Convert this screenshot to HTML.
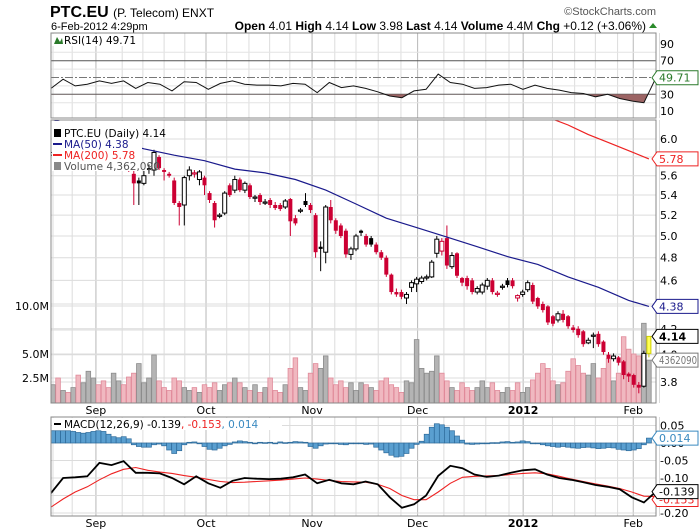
<!DOCTYPE html>
<html><head><meta charset="utf-8"><style>
html,body{margin:0;padding:0;background:#fff;}
svg{display:block;font-family:"DejaVu Sans","Liberation Sans",sans-serif;}
</style></head><body>
<svg id="chart" width="700" height="530" viewBox="0 0 700 530">
<defs>
<clipPath id="mainClip"><rect x="51" y="120" width="605" height="283"/></clipPath>
<clipPath id="rsiClip"><rect x="51" y="33" width="605" height="85"/></clipPath>
<clipPath id="rsiLow"><rect x="51" y="94.3" width="605" height="24"/></clipPath>
<clipPath id="macdClip"><rect x="51" y="417" width="605" height="99"/></clipPath>
</defs>
<g>
<text x="50" y="17" font-family="Liberation Sans, sans-serif" font-size="16" font-weight="bold">PTC.EU <tspan font-weight="normal" font-size="12">(P. Telecom) ENXT</tspan></text>
<text x="656" y="15" text-anchor="end" font-family="Liberation Sans, sans-serif" font-size="11" fill="#555">©StockCharts.com</text>
<text x="51" y="30" font-family="Liberation Sans, sans-serif" font-size="11">6-Feb-2012 4:29pm</text>
<text x="646" y="30" text-anchor="end" font-family="Liberation Sans, sans-serif" font-size="12"><tspan font-weight="bold">Open</tspan> 4.01 <tspan font-weight="bold">High</tspan> 4.14 <tspan font-weight="bold">Low</tspan> 3.98 <tspan font-weight="bold">Last</tspan> 4.14 <tspan font-weight="bold">Volume</tspan> 4.4M <tspan font-weight="bold">Chg</tspan> +0.12 (+3.06%)</text>
<polygon points="649,28 657,28 653,23" fill="#2a8a2a"/>
</g>
<g id="grid"></g>
<g id="rsi"></g>
<g id="main" clip-path="url(#mainClip)"></g>
<g id="macd"></g>
<g id="frames"></g>
<g id="axes"></g>
<g id="legend"></g>
</svg>
<script>
// ---------- DATA ----------
const opens=[5.82,5.85,5.80,5.88,5.76,5.78,5.70,5.76,5.84,5.88,5.80,5.74,5.70,5.80,5.82,5.74,5.62,5.55,5.52,5.68,5.66,5.80,5.66,5.62,5.55,5.32,5.30,5.60,5.62,5.56,5.58,5.42,5.32,5.19,5.22,5.50,5.45,5.56,5.45,5.50,5.37,5.40,5.33,5.35,5.30,5.30,5.28,5.36,5.17,5.24,5.34,5.30,5.20,4.90,4.85,5.28,5.15,5.10,5.05,4.83,4.88,5.05,5.00,4.98,4.92,4.85,4.80,4.65,4.50,4.50,4.45,4.54,4.57,4.59,4.62,4.63,4.84,4.86,4.98,4.72,4.84,4.62,4.62,4.60,4.50,4.50,4.55,4.60,4.48,4.55,4.60,4.60,4.45,4.48,4.52,4.56,4.45,4.40,4.38,4.30,4.27,4.32,4.30,4.21,4.20,4.18,4.09,4.15,4.16,4.10,4.00,3.97,3.98,3.95,3.86,3.85,3.78,3.77,4.01];
const closes=[5.85,5.80,5.90,5.75,5.80,5.70,5.75,5.85,5.90,5.80,5.75,5.68,5.80,5.85,5.75,5.70,5.52,5.52,5.60,5.66,5.85,5.68,5.64,5.60,5.32,5.28,5.58,5.66,5.63,5.64,5.50,5.35,5.15,5.20,5.42,5.40,5.56,5.45,5.52,5.38,5.38,5.33,5.33,5.30,5.27,5.26,5.34,5.14,5.12,5.25,5.30,5.25,4.85,4.88,5.28,5.15,5.05,5.00,4.83,4.88,5.00,5.03,4.92,4.92,4.85,4.80,4.65,4.50,4.48,4.46,4.48,4.58,4.61,4.62,4.63,4.76,4.97,4.95,4.73,4.82,4.64,4.58,4.55,4.50,4.53,4.56,4.60,4.50,4.49,4.55,4.56,4.55,4.47,4.50,4.58,4.42,4.38,4.35,4.25,4.24,4.32,4.27,4.22,4.19,4.15,4.08,4.11,4.15,4.08,4.02,3.97,3.99,3.94,3.85,3.84,3.78,3.76,4.01,4.14];
const highs=[5.88,5.88,5.92,5.9,5.83,5.8,5.78,5.87,5.93,5.9,5.82,5.76,5.82,5.88,5.84,5.76,5.66,5.58,5.65,5.72,5.88,5.82,5.68,5.64,5.58,5.34,5.6,5.7,5.66,5.66,5.6,5.44,5.34,5.22,5.44,5.52,5.6,5.58,5.54,5.52,5.4,5.42,5.36,5.37,5.33,5.32,5.36,5.37,5.2,5.27,5.42,5.32,5.22,4.95,5.3,5.35,5.17,5.12,5.07,4.9,5.02,5.06,5.02,5.0,4.94,4.87,4.82,4.66,4.53,4.52,4.5,4.6,4.63,4.64,4.65,4.78,5.0,4.98,5.1,4.85,4.85,4.63,4.64,4.62,4.55,4.58,4.62,4.62,4.51,4.57,4.62,4.62,4.48,4.52,4.6,4.58,4.46,4.42,4.39,4.31,4.34,4.35,4.31,4.23,4.22,4.19,4.13,4.17,4.18,4.11,4.02,4.01,3.99,3.96,3.87,3.86,3.8,4.03,4.14];
const lows=[5.78,5.77,5.78,5.72,5.74,5.66,5.68,5.74,5.82,5.78,5.72,5.66,5.68,5.78,5.72,5.64,5.3,5.3,5.5,5.62,5.6,5.66,5.55,5.58,5.3,5.1,5.1,5.55,5.58,5.5,5.4,5.32,5.08,5.17,5.2,5.38,5.42,5.43,5.42,5.36,5.33,5.3,5.3,5.27,5.25,5.24,5.26,5.0,5.1,5.22,5.28,5.22,4.8,4.68,4.75,5.12,5.02,4.98,4.8,4.78,4.86,5.0,4.9,4.9,4.83,4.78,4.63,4.48,4.46,4.44,4.4,4.5,4.5,4.57,4.6,4.62,4.8,4.82,4.7,4.7,4.62,4.55,4.52,4.48,4.48,4.48,4.52,4.48,4.46,4.52,4.54,4.53,4.42,4.46,4.5,4.4,4.36,4.33,4.23,4.22,4.25,4.25,4.2,4.17,4.13,4.06,4.08,4.05,4.06,4.0,3.94,3.95,3.92,3.82,3.8,3.76,3.72,3.76,3.98];
const volumes=[1.8,2.5,1.2,1.0,1.5,2.8,2.0,3.2,2.5,1.8,2.2,1.5,3.0,2.2,1.8,2.6,3.0,4.0,2.0,2.5,4.9,2.2,1.5,1.2,2.5,2.2,1.5,1.2,1.5,1.0,1.8,1.5,2.0,1.2,1.8,2.0,2.5,2.0,1.5,1.2,1.8,1.0,1.5,2.5,1.2,1.0,1.8,3.5,4.6,1.5,1.2,3.0,4.0,3.5,4.8,2.5,1.8,2.2,1.5,2.0,1.2,2.0,1.8,1.5,1.2,2.2,2.5,1.8,1.5,1.0,2.2,2.0,6.5,3.5,3.0,3.2,4.8,3.0,2.2,1.5,1.2,2.0,1.5,1.2,1.5,2.2,1.5,2.0,1.2,1.0,1.5,1.2,2.0,1.0,1.5,2.3,3.0,4.0,3.5,2.2,1.8,2.0,3.2,4.5,3.8,3.0,2.8,4.0,2.5,3.5,4.5,2.2,3.0,6.8,5.5,5.0,4.8,8.2,4.36];
const ma50Days=[0,6,12,18,24,30,36,42,48,54,60,66,72,78,84,90,96,102,108,114,118];
const ma50=[6.22,6.13,5.98,5.89,5.82,5.76,5.67,5.63,5.56,5.45,5.31,5.17,5.08,4.99,4.90,4.81,4.74,4.63,4.54,4.43,4.38];
const ma200Days=[98,102,106,110,114,118];
const ma200=[6.25,6.16,6.05,5.96,5.87,5.78];
const rsi=[37,48,40,42,46,43,46,37,44,42,34,45,44,36,43,46,42,41,41,40,43,42,32,44,38,40,37,33,28,26,34,36,54,44,42,37,38,41,42,36,41,37,35,32,31,27,30,25,22,20,49.71];
const macdLine=[-0.143,-0.10,-0.098,-0.095,-0.057,-0.063,-0.052,-0.085,-0.085,-0.087,-0.10,-0.118,-0.095,-0.115,-0.128,-0.108,-0.10,-0.102,-0.103,-0.102,-0.098,-0.09,-0.115,-0.105,-0.115,-0.118,-0.11,-0.118,-0.155,-0.185,-0.175,-0.15,-0.094,-0.065,-0.072,-0.09,-0.097,-0.093,-0.085,-0.078,-0.075,-0.09,-0.10,-0.105,-0.112,-0.12,-0.125,-0.132,-0.155,-0.17,-0.139];
const signalLine=[-0.183,-0.16,-0.14,-0.125,-0.105,-0.088,-0.075,-0.07,-0.078,-0.083,-0.087,-0.093,-0.098,-0.104,-0.11,-0.113,-0.112,-0.11,-0.108,-0.106,-0.103,-0.1,-0.103,-0.107,-0.11,-0.111,-0.112,-0.118,-0.13,-0.15,-0.162,-0.162,-0.14,-0.115,-0.098,-0.095,-0.094,-0.093,-0.09,-0.087,-0.085,-0.088,-0.095,-0.103,-0.11,-0.117,-0.123,-0.13,-0.14,-0.152,-0.153];
const histogram=[0.035,0.035,0.035,0.035,0.033,0.03,0.028,0.03,0.033,0.035,0.033,0.025,0.018,0.015,0.018,0.012,-0.005,-0.01,-0.012,-0.012,-0.005,-0.003,-0.008,-0.02,-0.03,-0.022,-0.005,0.002,0.003,0.0,-0.01,-0.018,-0.02,-0.015,-0.008,-0.004,0.003,0.006,0.004,0.002,0.0,0.002,0.001,0.002,0.0,0.003,0.001,0.002,0.004,0.003,0.002,-0.01,-0.015,-0.008,-0.003,0.0,-0.002,-0.004,-0.005,-0.002,0.0,-0.002,-0.004,-0.003,-0.012,-0.02,-0.028,-0.035,-0.04,-0.038,-0.03,-0.015,-0.004,0.005,0.025,0.045,0.055,0.052,0.045,0.035,0.02,0.008,-0.003,-0.004,-0.003,-0.002,0.0,0.001,0.001,0.003,0.004,0.002,0.003,0.006,0.004,0.0,-0.002,-0.005,-0.008,-0.01,-0.012,-0.01,-0.012,-0.014,-0.015,-0.013,-0.012,-0.014,-0.016,-0.015,-0.013,-0.014,-0.018,-0.02,-0.022,-0.02,-0.016,-0.005,0.014];
const priceTicks=[3.8,4.0,4.2,4.4,4.6,4.8,5.0,5.2,5.4,5.6,5.8,6.0];
const volTicks=[2.5,5.0,7.5,10.0];
const volTickLabels=["2.5M","5.0M","","10.0M"];
const rsiTicks=[10,30,50,70,90];
const macdTicks=[0.05,0.0,-0.05,-0.10,-0.15,-0.20];
const monthLabels=["Sep","Oct","Nov","Dec","2012","Feb"];
const monthDays=[8.5,30.3,51.3,72.2,93.1,114.9];
const weekDays=[0,3.8,13.7,17.8,22,26.1,34.4,38.8,42.9,46.9,55.8,60,64.4,68.9,77.4,81.4,85.7,90.3,98.9,103.3,107.4,111.8,120.1];

// ---------- SCALES ----------
const NS="http://www.w3.org/2000/svg";
const X0=51,X1=656;
function xB(i){return 53+i*5.05;}
function yP(p){return 139-Math.log(p/6)*532;}
function yV(v){return 402-v*9.6;}
function yR(v){return 77.5-(v-50)*0.84;}
function yM(v){return 443-v*350;}
function xS(i,n){return 51+i*(605/(n-1));}
function mk(tag,attrs,parent){const e=document.createElementNS(NS,tag);for(const k in attrs)e.setAttribute(k,attrs[k]);parent.appendChild(e);return e;}
const G=id=>document.getElementById(id);

// ---------- GRID ----------
const grid=G('grid');
weekDays.forEach(d=>{
  [[33,118],[120,403],[417,516]].forEach(r=>{
    const l=mk('line',{x1:xB(d),x2:xB(d),y1:r[0],y2:r[1],stroke:'#dcdcdc','stroke-width':1},grid);
    
    
  });
});
monthDays.forEach(d=>{
  [[33,118],[120,403],[417,516]].forEach(r=>{
    const l=mk('line',{x1:xB(d),x2:xB(d),y1:r[0],y2:r[1],stroke:'#b8b8b8','stroke-width':1},grid);
    
    
  });
});
priceTicks.forEach(p=>{
  const l=mk('line',{x1:X0,x2:X1,y1:yP(p),y2:yP(p),stroke:'#dcdcdc'},grid);
  
  
});
volTicks.forEach(v=>{
  const l=mk('line',{x1:X0,x2:X1,y1:yV(v),y2:yV(v),stroke:'#dcdcdc'},grid);
  
  
});
[20,40,60,80].forEach(v=>{
  const l=mk('line',{x1:X0,x2:X1,y1:yR(v),y2:yR(v),stroke:'#e4e4e4'},grid);
  
  
});
macdTicks.forEach(v=>{
  const l=mk('line',{x1:X0,x2:X1,y1:yM(v),y2:yM(v),stroke:'#dcdcdc'},grid);
  
  
});

// ---------- RSI ----------
const rg=G('rsi');
[70,30].forEach(v=>{
  const l=mk('line',{x1:X0,x2:X1,y1:yR(v),y2:yR(v),stroke:'#555','stroke-width':1},rg);
  
  
});
const mid=mk('line',{x1:X0,x2:X1,y1:yR(50),y2:yR(50),stroke:'#777','stroke-dasharray':'8,2,2,2'},rg);


let rp=rsi.map((v,i)=>xS(i,rsi.length).toFixed(1)+','+yR(v).toFixed(1));
const rfill=mk('polygon',{points:rp.join(' ')+' '+X1+','+yR(30)+' '+X0+','+yR(30),fill:'#9c6464','clip-path':'url(#rsiLow)'},rg);


const rl=mk('polyline',{points:rp.join(' '),fill:'none',stroke:'#111','stroke-width':1},rg);



// ---------- MAIN: volume ----------
const mg=G('main');
volumes.forEach((v,i)=>{
  const up=i===0||closes[i]>=closes[i-1];
  const r=mk('rect',{x:xB(i)-2.3,y:yV(v),width:4.6,height:402-yV(v)+2,fill:up?'#b4b4b4':'#f0b8c0',stroke:up?'#8c8c8c':'#e08a9a','stroke-width':0.8},mg);
  
  
});
// ---------- MAIN: candles ----------
closes.forEach((c,i)=>{
  const o=opens[i];
  const down=i>0&&c<closes[i-1];
  const col=down?'#cc0033':'#000';
  const last=i===closes.length-1;
  const w=mk('line',{x1:xB(i),x2:xB(i),y1:yP(highs[i]),y2:yP(lows[i]),stroke:last?'#c8c800':col,'stroke-width':1},mg);
  
  
  const top=yP(Math.max(o,c)),bot=yP(Math.min(o,c));
  const hollow=c>=o;
  const b=mk('rect',{x:xB(i)-2,y:top,width:4,height:Math.max(1.2,bot-top),fill:last?'#ffff55':(hollow?'#fff':col),stroke:last?'#d0d000':col,'stroke-width':hollow||last?1:0},mg);
  
  
});
// ---------- MAIN: moving averages ----------
const m50=mk('polyline',{points:ma50.map((v,k)=>xB(ma50Days[k]).toFixed(1)+','+yP(v).toFixed(1)).join(' '),fill:'none',stroke:'#1a1a8c','stroke-width':1.2},mg);


const m200=mk('polyline',{points:ma200.map((v,k)=>xB(ma200Days[k]).toFixed(1)+','+yP(v).toFixed(1)).join(' '),fill:'none',stroke:'#ee2222','stroke-width':1.2},mg);



// ---------- MACD ----------
const mc=G('macd');
const mcg=mk('g',{'clip-path':'url(#macdClip)'},mc);
histogram.forEach((h,i)=>{
  const y0=yM(0),y1=yM(h);
  const r=mk('rect',{x:xB(i)-2.5,y:Math.min(y0,y1),width:5,height:Math.max(0.8,Math.abs(y1-y0)),fill:'#5a9fd0',stroke:'#2d6a9a','stroke-width':0.7},mcg);
  
  
});
const sl=mk('polyline',{points:signalLine.map((v,i)=>xS(i,signalLine.length).toFixed(1)+','+yM(v).toFixed(1)).join(' '),fill:'none',stroke:'#ee2222','stroke-width':1.1},mcg);


const ml=mk('polyline',{points:macdLine.map((v,i)=>xS(i,macdLine.length).toFixed(1)+','+yM(v).toFixed(1)).join(' '),fill:'none',stroke:'#000','stroke-width':1.8},mcg);



// ---------- FRAMES ----------
const fr=G('frames');
[[33,118,'rsi-panel'],[120,403,'price-panel'],[417,516,'macd-panel']].forEach(r=>{
  const e=mk('rect',{x:X0,y:r[0],width:X1-X0,height:r[1]-r[0],fill:'none',stroke:'#888','stroke-width':1},fr);
  
  
});

// ---------- AXES ----------
const ax=G('axes');
function txt(x,y,s,attrs,name){const t=mk('text',Object.assign({x:x,y:y,'font-size':11,fill:'#000'},attrs||{}),ax);t.textContent=s;return t;}
priceTicks.forEach(p=>{txt(660,yP(p)+4,p.toFixed(1),{},'price-tick-label');});
volTicks.forEach((v,k)=>{txt(49,yV(v)+4,volTickLabels[k],{'text-anchor':'end'},'volume-tick-label');});
rsiTicks.forEach(v=>{if(v!==50)txt(660,yR(v)+4,String(v),{},'rsi-tick-label');});
macdTicks.forEach(v=>{txt(660,yM(v)+4,v===0?'0.00':v.toFixed(2),{},'macd-tick-label');});
monthLabels.forEach((m,k)=>{
  const b=m==='2012'?{'text-anchor':'middle','font-weight':'bold'}:{'text-anchor':'middle'};
  txt(xB(monthDays[k]),414,m,b,'month-label-top');
  txt(xB(monthDays[k]),527,m,b,'month-label-bottom');
});
function tag(y,label,stroke,bold,name){
  const p=mk('polygon',{points:`652,${y} 657,${y-7} 698,${y-7} 698,${y+7} 657,${y+7}`,fill:'#fff',stroke:stroke,'stroke-width':1},ax);
  
  
  const a={fill:bold?'#000':stroke,'font-weight':bold?'bold':'normal'};
  if(label.length>6){a.textLength=38;a.lengthAdjust='spacingAndGlyphs';}
  txt(659,y+4,label,a,name);
}
tag(yP(5.78),'5.78','#ee2222',false,'ma200-value-tag');
tag(yP(4.38),'4.38','#1a1a8c',false,'ma50-value-tag');
tag(yP(4.14),'4.14','#000',true,'last-price-tag');
tag(yV(4.362),'4362090','#777',false,'volume-value-tag');
tag(yR(49.71),'49.71','#2a7a2a',false,'rsi-value-tag');
tag(yM(0.014),'0.014','#3a8ac0',false,'histogram-value-tag');
tag(yM(-0.153)+3,'-0.153','#ee2222',false,'signal-value-tag');
tag(yM(-0.139),'-0.139','#000',false,'macd-value-tag');

// ---------- LEGENDS ----------
const lg=G('legend');
const bg=mk('rect',{x:52,y:121,width:90,height:50,fill:'#fff'},lg);


function ltxt(x,y,s,fill,name){const t=mk('text',{x:x,y:y,'font-size':10.5,fill:fill},lg);t.textContent=s;return t;}
ltxt(64,137,'PTC.EU (Daily) 4.14','#000','legend-price');
ltxt(64,148,'MA(50) 4.38','#1a1a8c','legend-ma50');
ltxt(64,159,'MA(200) 5.78','#ee2222','legend-ma200');
ltxt(64,170,'Volume 4,362,090','#555','legend-volume');
const li1=mk('rect',{x:54,y:129,width:7,height:8,fill:'#000'},lg);


const li2=mk('line',{x1:53,x2:62,y1:144,y2:144,stroke:'#1a1a8c','stroke-width':2},lg);


const li3=mk('line',{x1:53,x2:62,y1:155,y2:155,stroke:'#ee2222','stroke-width':2},lg);


const li4=mk('rect',{x:54,y:162,width:7,height:8,fill:'#888'},lg);


const rbg=mk('rect',{x:52,y:34,width:88,height:12,fill:'#fff'},lg);


const ri=mk('polygon',{points:'54,44 57,37 60,42 62,38 63,44',fill:'#2a7a2a'},lg);


ltxt(64,44,'RSI(14) 49.71','#000','rsi-legend');
const mbg=mk('rect',{x:52,y:418,width:230,height:12,fill:'#fff'},lg);


const msw=mk('line',{x1:54,x2:61,y1:424,y2:424,stroke:'#000','stroke-width':2},lg);


const mt=mk('text',{x:64,y:428,'font-size':10.5},lg);


mt.innerHTML='<tspan fill="#000">MACD(12,26,9) -0.139</tspan><tspan fill="#ee2222">, -0.153</tspan><tspan fill="#3a8ac0">, 0.014</tspan>';
</script>
</body></html>
